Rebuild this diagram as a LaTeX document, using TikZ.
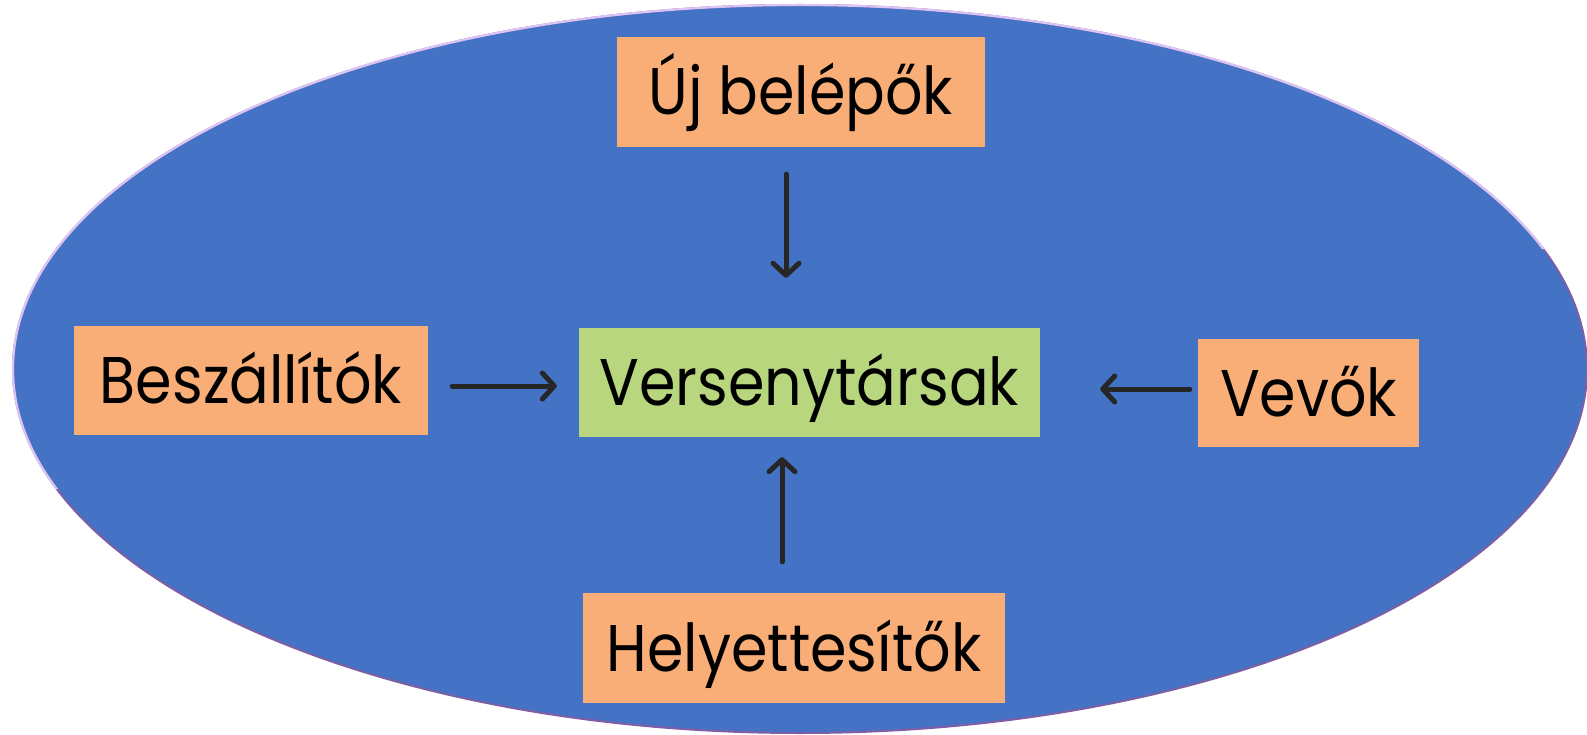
\documentclass[tikz,border=0pt]{standalone}
\usepackage{fontspec}
\setmainfont{Poppins}[FakeStretch=0.89]
\usetikzlibrary{arrows.meta}
\definecolor{field}{HTML}{4472C4}
\definecolor{force}{HTML}{F9AE78}
\definecolor{rival}{HTML}{B7D67E}
\definecolor{ink}{HTML}{262626}
\definecolor{rimlight}{HTML}{DCC4F4}
\definecolor{rimdark}{HTML}{7E5FA6}
\tikzset{
  box/.style={rectangle, inner sep=0pt, text=black,
    font=\fontsize{66}{76}\selectfont, text height=46pt, text depth=0pt},
  forcebox/.style={box, fill=force},
  rivalbox/.style={box, fill=rival},
  arr/.style={draw=ink, line width=5pt, line cap=round,
    -{Straight Barb[length=12pt, width=26pt, round]}},
}
\begin{document}
\begin{tikzpicture}[x=1pt, y=-1pt]
\useasboundingbox (0,0) rectangle (1587,735);
% background field: dark rim all round, light rim over the upper part
\draw[rimdark, fill=field, line width=2pt] (800,369) ellipse [x radius=787, y radius=364];
\begin{scope}
  \clip (-10,-10) -- (1600,-10) -- (1600,240) -- (-10,500) -- cycle;
  \draw[rimlight, line width=2.2pt] (800,369) ellipse [x radius=787, y radius=364];
\end{scope}
% the five forces
\node[forcebox, minimum width=368pt, minimum height=110pt] (uj) at (801,92) {Új belépők};
\node[forcebox, minimum width=354pt, minimum height=109pt] (besz) at (251,380) {Beszállítók};
\node[rivalbox, minimum width=461pt, minimum height=109pt] (vers) at (809.5,382.5) {Versenytársak};
\node[forcebox, minimum width=221pt, minimum height=108pt] (vevo) at (1308.5,393) {Vevők};
\node[forcebox, minimum width=422pt, minimum height=110pt] (hely) at (794,648) {Helyettesítők};
% pressure on the rivals
\draw[arr, shorten <=27pt, shorten >=50pt] ([xshift=-15pt]uj.south) -- ([xshift=-23.5pt]vers.north);
\draw[arr, shorten <=24pt, shorten >=22pt] ([yshift=-6pt]besz.east) -- ([yshift=-3.5pt]vers.west);
\draw[arr, shorten <=8pt, shorten >=60pt] ([yshift=4pt]vevo.west) -- ([yshift=-6.5pt]vers.east);
\draw[arr, shorten <=31pt, shorten >=20pt] ([xshift=-12pt]hely.north) -- ([xshift=-27.5pt]vers.south);
\end{tikzpicture}
\end{document}
